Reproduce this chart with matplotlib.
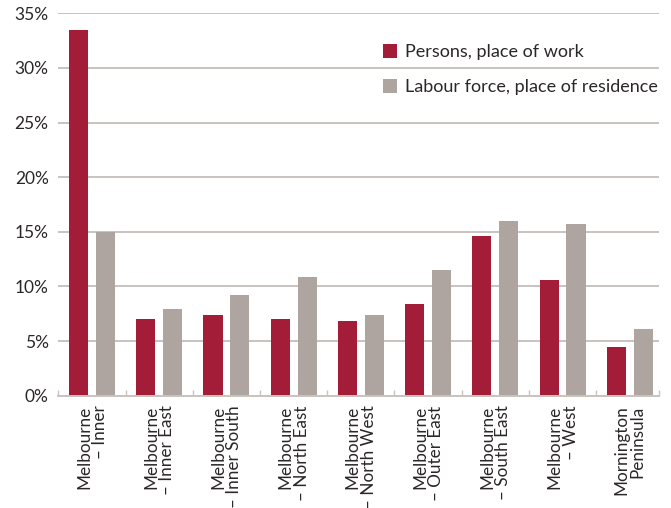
import matplotlib
matplotlib.use("Agg")
import matplotlib.pyplot as plt
from matplotlib.patches import Patch
import numpy as np

# Share of employment by SA4 region
regions = [
    "Melbourne\n– Inner",
    "Melbourne\n– Inner East",
    "Melbourne\n– Inner South",
    "Melbourne\n– North East",
    "Melbourne\n– North West",
    "Melbourne\n– Outer East",
    "Melbourne\n– South East",
    "Melbourne\n– West",
    "Mornington\nPeninsula",
]
place_of_work = [33.5, 7.0, 7.4, 7.0, 6.8, 8.4, 14.6, 10.6, 4.5]
place_of_residence = [15.0, 7.9, 9.2, 10.9, 7.4, 11.5, 16.0, 15.7, 6.1]
series_labels = ["Persons, place of work", "Labour force, place of residence"]
y_ticks = [0, 5, 10, 15, 20, 25, 30, 35]

RED = "#a31c38"
GREY = "#aea4a0"
GRID = "#c9c2bf"
TEXT = "#2b2728"

plt.rcParams["font.family"] = ["Lato", "DejaVu Sans"]

fig = plt.figure(figsize=(6.71, 5.08), dpi=100)
ax = fig.add_axes([0.087, 0.221, 0.8956, 0.753])

x = np.arange(len(regions))
w = 0.285
off = 0.2
ax.bar(x - off, place_of_work, w, color=RED, zorder=3, label=series_labels[0])
ax.bar(x + off, place_of_residence, w, color=GREY, zorder=3, label=series_labels[1])

ax.set_xlim(-0.5, 8.44)
ax.set_ylim(0, 35)

# horizontal grid at each 5%
ax.set_yticks(y_ticks)
ax.set_yticklabels([f"{t}%" for t in y_ticks])
for t in y_ticks[1:]:
    ax.axhline(t, color=GRID, lw=1.4, zorder=1)

ax.tick_params(axis="y", length=0, pad=7, labelsize=12.5, labelcolor=TEXT)

# category labels at group centres, boundary ticks between groups
ax.set_xticks(x)
ax.set_xticklabels(regions, rotation=90, ha="center", va="top",
                   rotation_mode="default", fontsize=12.3, color=TEXT,
                   linespacing=1.0)
for lbl in ax.get_xticklabels():
    lbl.set_multialignment("right")
ax.tick_params(axis="x", length=0, pad=7)
bounds = list(np.arange(-0.5, 8.0, 1.0)) + [8.44]
ax.set_xticks(bounds, minor=True)
ax.tick_params(axis="x", which="minor", direction="in", length=4,
               width=1, color=GRID)

for s in ["left", "right", "top"]:
    ax.spines[s].set_visible(False)
ax.spines["bottom"].set_color(GRID)
ax.spines["bottom"].set_linewidth(1.4)
ax.spines["bottom"].set_zorder(4)

handles = [Patch(facecolor=RED, edgecolor="none"),
           Patch(facecolor=GREY, edgecolor="none")]
ax.legend(handles, series_labels, loc="upper left",
          bbox_to_anchor=(0.528, 0.938), frameon=False,
          fontsize=13, labelcolor=TEXT,
          handlelength=0.78, handleheight=0.78, handletextpad=0.45,
          labelspacing=1.05, borderaxespad=0)

fig.savefig("out.png", dpi=100)
